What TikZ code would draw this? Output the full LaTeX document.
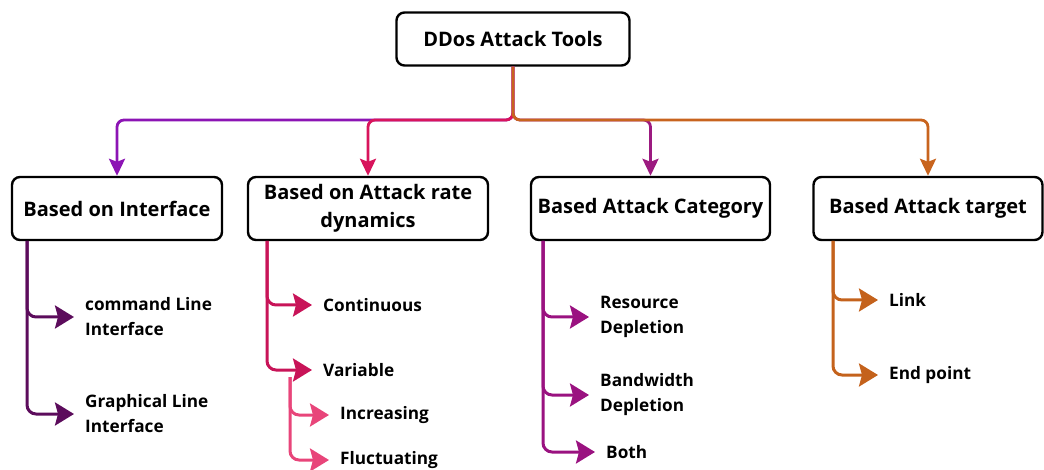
\documentclass[tikz,border=0pt]{standalone}
\usepackage{fontspec}
\setmainfont{Open Sans}
\usetikzlibrary{arrows.meta,positioning}

\definecolor{cpurple}{HTML}{8C14B4}
\definecolor{ccrimson}{HTML}{D8145C}
\definecolor{cmagenta}{HTML}{9C1A80}
\definecolor{corange}{HTML}{C8641E}
\definecolor{ldpurple}{HTML}{5C0C5C}
\definecolor{lcrimson}{HTML}{C81458}
\definecolor{lpink}{HTML}{E8457A}
\definecolor{lmagenta}{HTML}{9A1280}
\definecolor{lorange}{HTML}{C4621C}

\begin{document}
\begin{tikzpicture}[x=1pt,y=-1pt]
            \useasboundingbox (0,0) rectangle (1044,470);
            \tikzstyle{box}=[rectangle,rounded corners=8pt,line width=2.4pt,draw,font=\bfseries\fontsize{20}{28}\selectfont,align=center]
            \tikzstyle{leaf}=[anchor=west,inner sep=0pt,font=\bfseries\fontsize{17.2}{25}\selectfont,align=left]

            \tikzstyle{top}=[line width=2.8pt,rounded corners=7pt,-{Stealth[length=17pt,width=16pt,inset=3pt]}]   % root to groups
            \tikzstyle{sub}=[line width=3pt,rounded corners=9pt,shorten >=11pt,-{Stealth[length=19pt,width=23pt,inset=3pt]}]  % groups to leaves

            \node[box,minimum width=233pt,minimum height=53pt] (0) at (513, 39) {DDos Attack Tools};

            \node[box,minimum width=210pt,minimum height=63pt] (1) at (117, 208.5) {Based on Interface};
            \node[box,minimum width=240pt,minimum height=63pt] (2) at (368, 208.5) {Based on Attack rate\\dynamics};
            \node[box,minimum width=239pt,minimum height=63pt] (3) at (650.5, 208.5) {Based Attack Category};
            \node[box,minimum width=229pt,minimum height=63pt] (4) at (928, 208.5) {Based Attack target};

            \draw[top,cmagenta] (0.south) |- (513,120) -| (3.north);
            \draw[top,cpurple] (0.south) |- (513,120) -| (1.north);
            \draw[top,ccrimson] (0.south) |- (513,120) -| (2.north);
            \draw[top,corange] (0.south) |- (513,120) -| (4.north);

            % leaves
            \node[leaf] (1a) at (85, 317) {command Line\\Interface};
            \node[leaf] (1b) at (85, 414) {Graphical Line\\Interface};

            \node[leaf] (2a) at (323, 305) {Continuous};
            \node[leaf] (2b) at (323, 370) {Variable};
            \node[leaf] (2c) at (340, 415) {Increasing};
            \node[leaf] (2d) at (340, 460) {Fluctuating};

            \node[leaf] (3a) at (600, 317) {Resource\\Depletion};
            \node[leaf] (3b) at (600, 395) {Bandwidth\\Depletion};
            \node[leaf] (3c) at (606, 452) {Both};

            \node[leaf] (4a) at (889, 300) {Link};
            \node[leaf] (4b) at (889, 375) {End point};

            \coordinate (s1) at (27, 241);
            \coordinate (s2) at (267, 241);
            \coordinate (s2v) at (290, 377);
            \coordinate (s3) at (543, 241);
            \coordinate (s4) at (833, 241);

            \draw[sub,ldpurple] (s1) |- (1a.west);
            \draw[sub,ldpurple] (s1) |- (1b.west);
            \draw[sub,lpink] (s2v) |- (2c.west);
            \draw[sub,lpink] (s2v) |- (2d.west);
            \draw[sub,lcrimson] (s2) |- (2a.west);
            \draw[sub,lcrimson] (s2) |- (2b.west);
            \draw[sub,lmagenta] (s3) |- (3a.west);
            \draw[sub,lmagenta] (s3) |- (3b.west);
            \draw[sub,lmagenta] (s3) |- (3c.west);
            \draw[sub,lorange] (s4) |- (4a.west);
            \draw[sub,lorange] (s4) |- (4b.west);
\end{tikzpicture}
\end{document}
